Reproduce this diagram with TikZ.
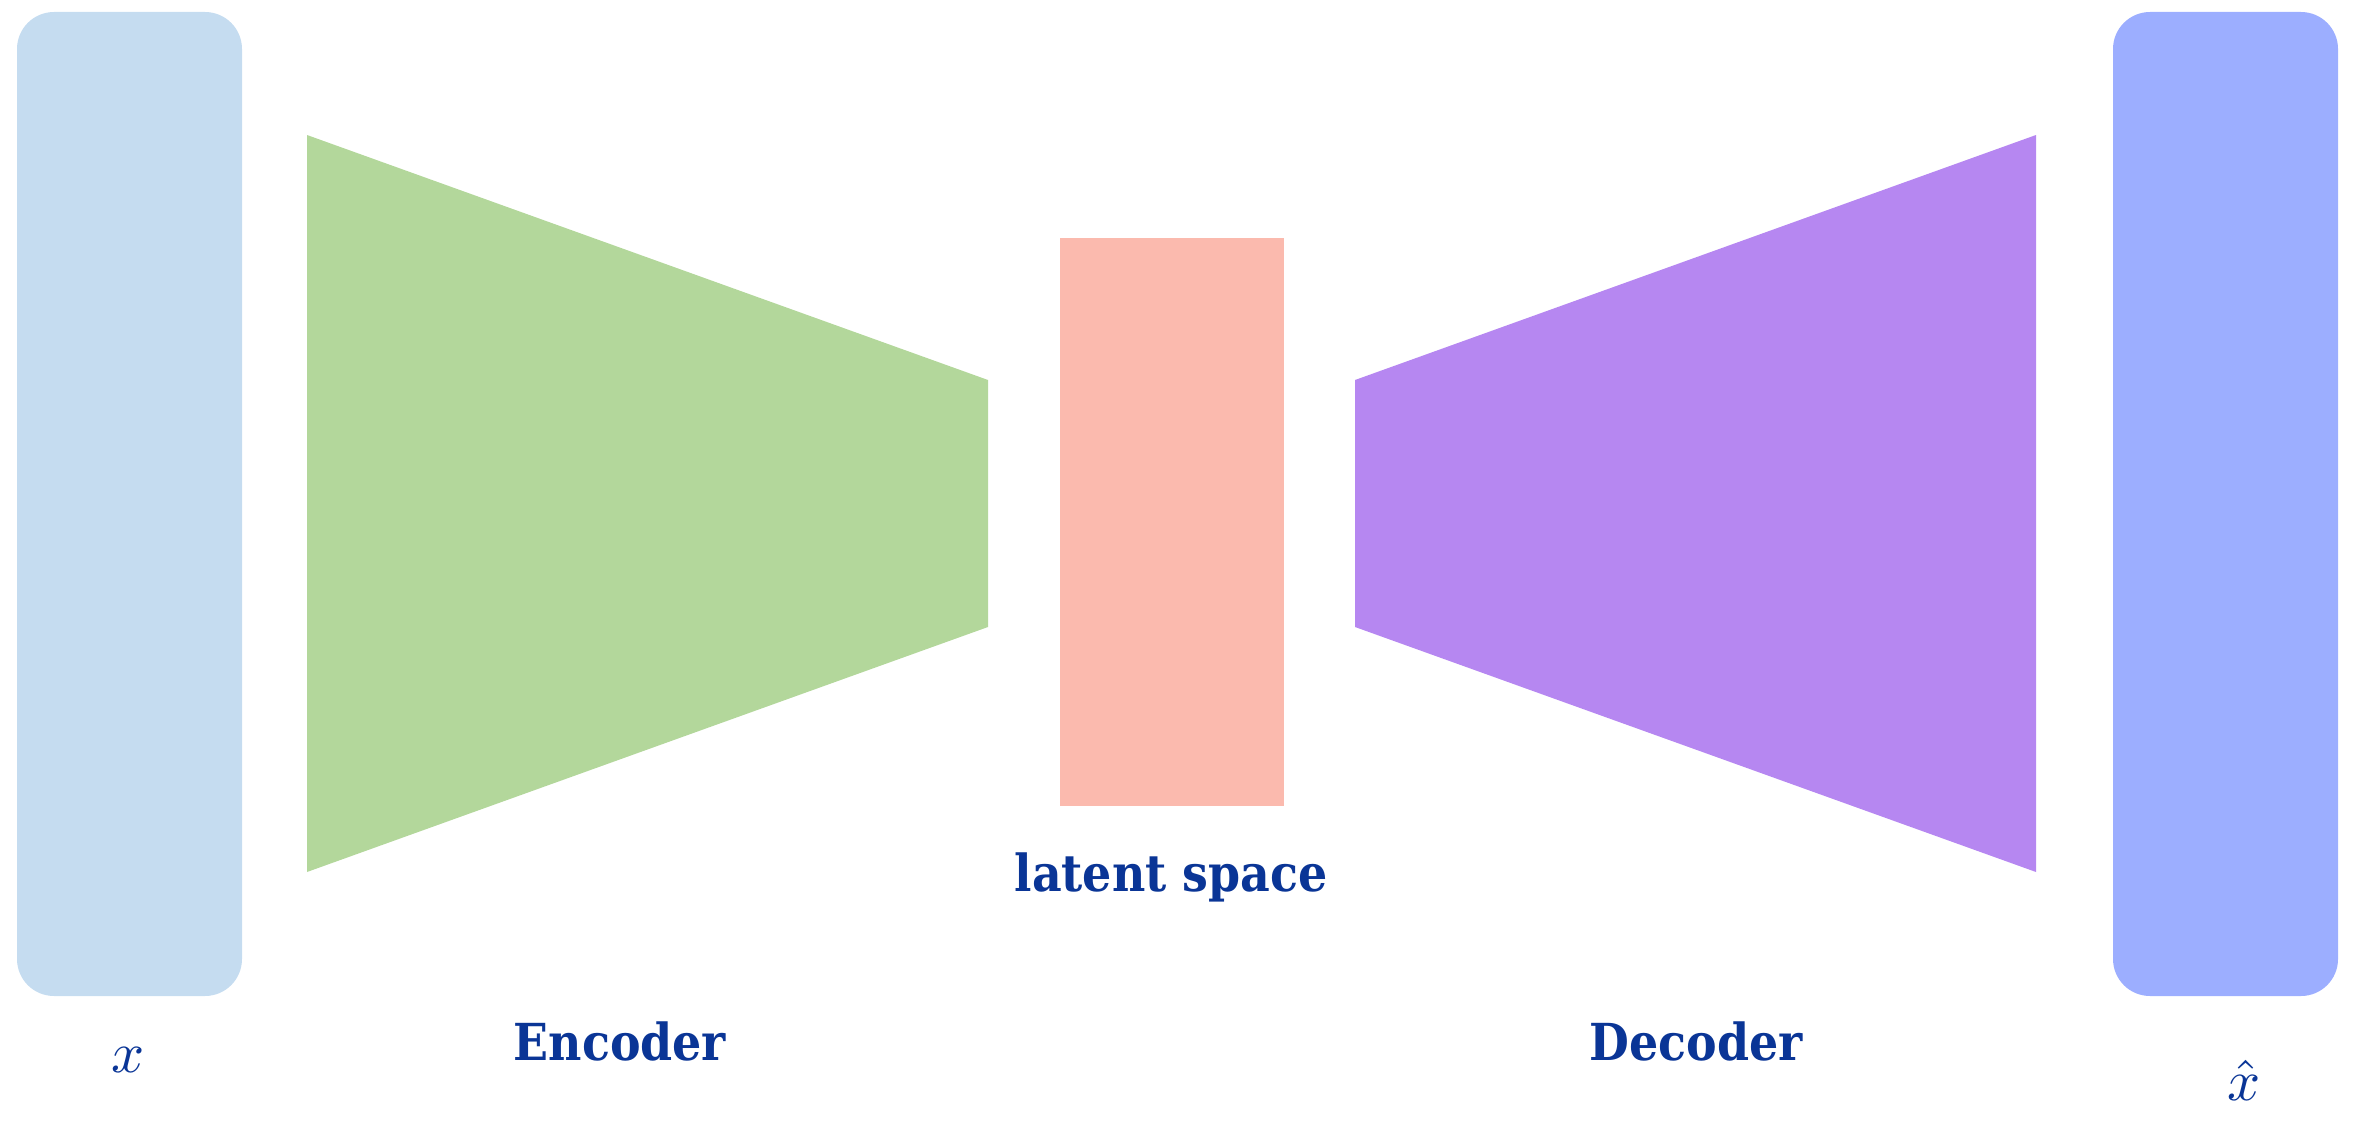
\documentclass[tikz,border=0pt]{standalone}
\usepackage{fontspec}
\newfontfamily\slab{DejaVu Serif Condensed}
\begin{document}
\begin{tikzpicture}[x=1pt,y=-1pt,
  lbl/.style={text=labblue,font=\slab\bfseries\fontsize{51}{60}\selectfont,inner sep=0},
  mlbl/.style={text=labblue,inner sep=0}]
\definecolor{labblue}{HTML}{0A3596}
\definecolor{cin}{HTML}{C5DCF0}
\definecolor{cenc}{HTML}{B3D79B}
\definecolor{clat}{HTML}{FBBAAE}
\definecolor{cdec}{HTML}{B687F1}
\definecolor{cout}{HTML}{9CAEFF}
\useasboundingbox (0,0) rectangle (2358,1124);
\fill[cin,rounded corners=37] (17,12) rectangle (242,996);
\fill[cout,rounded corners=37] (2113,12) rectangle (2338,996);
\fill[cenc] (307,135) -- (988,380) -- (988,627) -- (307,872) -- cycle;
\fill[cdec] (2036,135) -- (1355,380) -- (1355,627) -- (2036,872) -- cycle;
\fill[clat] (1060,238) rectangle (1284,806);
\node[lbl] (lat) at (1171,877) {latent space};
\node[lbl] (enc) at (620,1041) {Encoder};
\node[lbl] (dec) at (1696,1041) {Decoder};
\node[mlbl] (x) at (128,1060) {\scalebox{5.8}{$x$}};
\node[mlbl] (xh) at (2244,1080) {\scalebox{5.8}{$\hat{x}$}};
\end{tikzpicture}
\end{document}
